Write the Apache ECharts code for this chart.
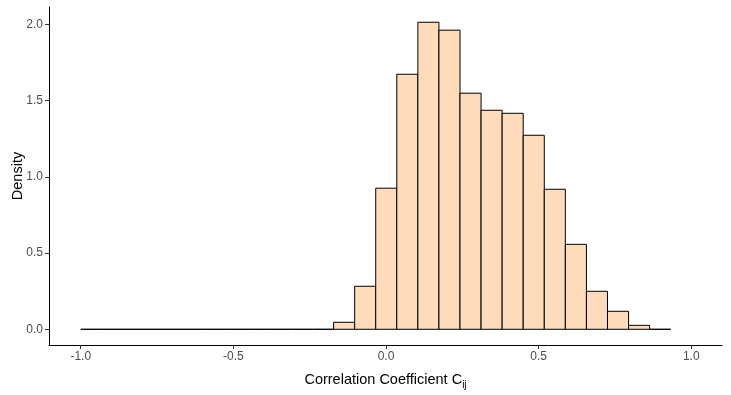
<!DOCTYPE html>
<html>
<head>
<meta charset="utf-8">
<script src="https://cdn.jsdelivr.net/npm/echarts@6/dist/echarts.min.js"></script>
<style>
  html, body { margin: 0; padding: 0; background: #fff; }
  #chart { width: 731px; height: 395px; }
</style>
</head>
<body>
<div id="chart"></div>
<script>
// histogram bins: start at -1.0, fixed width
var binStart = -1.0;
var binWidth = 0.06902;
// density per bin (28 bins)
var density = [
    0, 0, 0, 0, 0, 0, 0, 0, 0, 0, 0, 0,
    0.046, 0.282, 0.925, 1.672, 2.013, 1.961, 1.548, 1.436,
    1.416, 1.272, 0.918, 0.557, 0.249, 0.118, 0.026, 0
];
var xTicks = [-1.0, -0.5, 0.0, 0.5, 1.0];
var yTicks = [0.0, 0.5, 1.0, 1.5, 2.0];

var binData = [];
for (var i = 0; i < density.length; i++) {
    var lo = binStart + i * binWidth;
    binData.push([lo, lo + binWidth, density[i]]);
}

var labelStyle = { color: '#4D4D4D', fontSize: 12, fontFamily: 'Liberation Sans' };

var chart = echarts.init(document.getElementById('chart'));
var option = {
    animation: false,
    grid: { left: 49, right: 9, top: 7, bottom: 50, containLabel: false, outerBoundsMode: 'none' },
    xAxis: {
        type: 'value',
        min: -1.104,
        max: 1.1006,
        name: '{a|Correlation Coefficient C}{s|ij}',
        nameLocation: 'middle',
        nameGap: 25,
        nameMoveOverlap: false,
        nameTextStyle: {
            rich: {
                a: { fontSize: 14.5, color: '#000', fontFamily: 'Liberation Sans', lineHeight: 20 },
                s: { fontSize: 10, color: '#000', fontFamily: 'Liberation Sans', lineHeight: 20, verticalAlign: 'bottom', padding: [6, 0, 0, 0] }
            }
        },
        splitLine: { show: false },
        axisLine: { onZero: false, lineStyle: { color: '#000', width: 1 } },
        axisTick: { customValues: xTicks, length: 4, lineStyle: { color: '#333' } },
        axisLabel: Object.assign({
            customValues: xTicks,
            margin: 6,
            formatter: function (v) { return v.toFixed(1); }
        }, labelStyle)
    },
    yAxis: {
        type: 'value',
        min: -0.103,
        max: 2.113,
        name: 'Density',
        nameLocation: 'middle',
        nameGap: 24,
        nameMoveOverlap: false,
        nameTextStyle: { fontSize: 14.5, color: '#000', fontFamily: 'Liberation Sans' },
        splitLine: { show: false },
        axisLine: { show: true, onZero: false, lineStyle: { color: '#000', width: 1 } },
        axisTick: { show: true, customValues: yTicks, length: 4, lineStyle: { color: '#333' } },
        axisLabel: Object.assign({
            customValues: yTicks,
            margin: 6,
            formatter: function (v) { return v.toFixed(1); }
        }, labelStyle)
    },
    series: [{
        type: 'custom',
        data: binData,
        renderItem: function (params, api) {
            var p0 = api.coord([api.value(0), api.value(2)]);
            var p1 = api.coord([api.value(1), 0]);
            return {
                type: 'rect',
                shape: { x: p0[0], y: p0[1], width: p1[0] - p0[0], height: p1[1] - p0[1] },
                style: { fill: '#FDDBBB', stroke: '#000', lineWidth: 1 }
            };
        }
    }]
};
chart.setOption(option);
</script>
</body>
</html>
